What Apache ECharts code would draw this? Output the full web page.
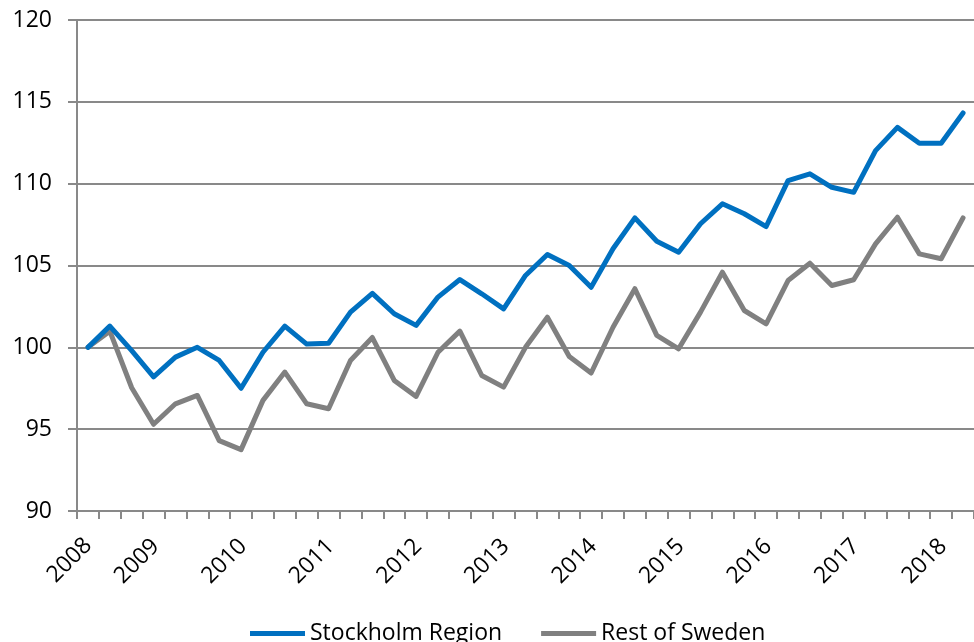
<!DOCTYPE html>
<html>
<head>
<meta charset="utf-8">
<script src="https://cdn.jsdelivr.net/npm/echarts@6/dist/echarts.min.js"></script>
<style>
html,body{margin:0;padding:0;background:#fff;}
#chart{width:974px;height:642px;}
</style>
</head>
<body>
<div id="chart"></div>
<script>
const quarters = ['2008Q1','2008Q2','2008Q3','2008Q4','2009Q1','2009Q2','2009Q3','2009Q4','2010Q1','2010Q2','2010Q3','2010Q4','2011Q1','2011Q2','2011Q3','2011Q4','2012Q1','2012Q2','2012Q3','2012Q4','2013Q1','2013Q2','2013Q3','2013Q4','2014Q1','2014Q2','2014Q3','2014Q4','2015Q1','2015Q2','2015Q3','2015Q4','2016Q1','2016Q2','2016Q3','2016Q4','2017Q1','2017Q2','2017Q3','2017Q4','2018Q1'];
const yearLabels = ['2008','2009','2010','2011','2012','2013','2014','2015','2016','2017','2018'];
const stockholm = [100.0,101.3,99.8,98.2,99.4,100.0,99.2,97.5,99.7,101.3,100.2,100.25,102.15,103.3,102.05,101.34,103.07,104.14,103.27,102.35,104.39,105.67,105.0,103.67,106.02,107.91,106.48,105.81,107.55,108.77,108.16,107.38,110.19,110.6,109.78,109.47,112.02,113.44,112.47,112.47,114.32];
const restOfSweden = [100.0,100.99,97.53,95.3,96.55,97.06,94.3,93.75,96.76,98.49,96.55,96.25,99.2,100.6,97.98,97.0,99.7,100.99,98.28,97.57,100.0,101.84,99.44,98.43,101.23,103.58,100.73,99.91,102.15,104.59,102.25,101.44,104.08,105.14,103.78,104.13,106.32,107.95,105.71,105.41,107.91];
const seriesNames = ['Stockholm Region','Rest of Sweden'];
const yMin = 90, yMax = 120, yStep = 5;

const FONT = '"Open Sans", sans-serif';
const chart = echarts.init(document.getElementById('chart'), null, {renderer:'canvas'});
chart.setOption({
  animation: false,
  backgroundColor: '#fff',
  grid: {left: 77, right: -2, top: 20, bottom: 131, containLabel: false},
  xAxis: {
    type: 'category',
    data: quarters,
    boundaryGap: true,
    axisLine: {lineStyle: {color: '#898989', width: 2}},
    axisTick: {show: true, interval: 0, length: 8, lineStyle: {color: '#898989', width: 2}},
    axisLabel: {
      interval: function (idx) { return idx % 4 === 0; },
      rotate: 45,
      margin: 12,
      color: '#000',
      fontFamily: FONT,
      fontSize: 23,
      formatter: function (val, idx) {
        const y = yearLabels[Math.floor(idx / 4)];
        return idx === 0 ? '{f|' + y + '}' : '{y|' + y + '}';
      },
      rich: {
        y: {padding: [0, 28, 0, 0], fontFamily: FONT, fontSize: 23, color: '#000'},
        f: {padding: [27, 13, 0, 0], fontFamily: FONT, fontSize: 23, color: '#000'}
      }
    },
    splitLine: {show: false}
  },
  yAxis: {
    type: 'value',
    min: yMin, max: yMax, interval: yStep,
    axisLine: {show: true, lineStyle: {color: '#898989', width: 2}},
    axisTick: {show: true, length: 9, lineStyle: {color: '#898989', width: 2}},
    axisLabel: {margin: 25, color: '#000', fontFamily: FONT, fontSize: 23},
    splitLine: {show: true, lineStyle: {color: '#898989', width: 2}}
  },
  legend: {
    left: 250, top: 622, padding: 0,
    itemWidth: 55, itemHeight: 5, itemGap: 39,
    icon: 'rect',
    textStyle: {fontFamily: FONT, fontSize: 23, color: '#000'},
    data: seriesNames
  },
  series: [
    {name: seriesNames[0], type: 'line', data: stockholm, symbol: 'none', showSymbol: false,
     lineStyle: {color: '#0070C0', width: 5, cap: 'round', join: 'round'}, itemStyle: {color: '#0070C0'}, z: 3},
    {name: seriesNames[1], type: 'line', data: restOfSweden, symbol: 'none', showSymbol: false,
     lineStyle: {color: '#808080', width: 5, cap: 'round', join: 'round'}, itemStyle: {color: '#808080'}, z: 2}
  ]
});
</script>
</body>
</html>
